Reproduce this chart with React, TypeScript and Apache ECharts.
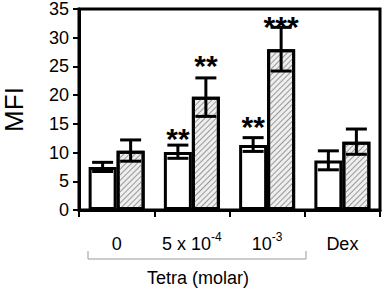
import React, { useEffect, useRef } from "react";
import * as echarts from "echarts";

const categories = ["0", "5 x 10-4", "10-3", "Dex"];
const controlMeans = [7.5, 10.1, 11.3, 8.6];
const controlLow = [6.7, 9.0, 10.2, 7.0];
const controlHigh = [8.3, 11.3, 12.6, 10.3];
const treatedMeans = [10.3, 19.7, 28.0, 11.9];
const treatedLow = [8.5, 16.3, 24.2, 9.7];
const treatedHigh = [12.2, 23.0, 31.8, 14.1];
// significance marks: [category index, side (-1 control, 1 treated), y value, text]
const starCats = [1, 1, 2, 2];
const starSides = [-1, 1, -1, 1];
const starValues = [12.9, 25.6, 15.1, 32.5];
const starTexts = ["**", "**", "**", "***"];
const yTicks = { min: 0, max: 35, interval: 5 };

const BAR_W = 28;
const FONT = "Liberation Sans, Arial, sans-serif";

export default function App() {
  const ref = useRef<HTMLDivElement>(null);
  useEffect(() => {
    document.body.style.margin = "0";
    const chart = echarts.init(ref.current!, null, { renderer: "svg" });
    const errData: any[] = [];
    categories.forEach((_, i) => {
      errData.push([i, controlLow[i], controlHigh[i], -1]);
      errData.push([i, treatedLow[i], treatedHigh[i], 1]);
    });
    const starData = starCats.map((c, i) => [c, starValues[i], starSides[i]]);
    chart.setOption({
      animation: false,
      textStyle: { fontFamily: FONT },
      grid: {
        left: 79,
        right: 3,
        top: 9,
        bottom: 79,
        show: true,
        borderColor: "#000",
        borderWidth: 3,
        outerBoundsMode: "none",
        containLabel: false,
      },
      xAxis: {
        type: "category",
        data: categories,
        axisLine: { lineStyle: { color: "#000", width: 3 } },
        axisTick: { show: true, length: 7, lineStyle: { color: "#000", width: 2 } },
        axisLabel: {
          interval: 0,
          hideOverlap: false,
          margin: 21,
          color: "#000",
          fontSize: 18,
          fontFamily: FONT,
          formatter: (v: string) => {
            const m = v.match(/^(.*10)(-\d)$/);
            return m ? `{n|${m[1]}}{s|${m[2]}}` : `{n|${v}}`;
          },
          rich: {
            n: { fontSize: 18, fontFamily: FONT, color: "#000", lineHeight: 22, verticalAlign: "bottom" },
            s: { fontSize: 12, fontFamily: FONT, color: "#000", lineHeight: 12, verticalAlign: "top" },
          },
        },
      },
      yAxis: {
        type: "value",
        min: yTicks.min,
        max: yTicks.max,
        interval: yTicks.interval,
        name: "MFI",
        nameLocation: "middle",
        nameRotate: 90,
        nameGap: 52,
        nameTextStyle: { fontSize: 26, color: "#000", fontFamily: FONT },
        axisLine: { show: true, lineStyle: { color: "#000", width: 3 } },
        axisTick: { show: true, length: 6, lineStyle: { color: "#000", width: 2 } },
        splitLine: { show: false },
        axisLabel: { color: "#000", fontSize: 18, fontFamily: FONT, margin: 10 },
      },
      series: [
        {
          type: "bar",
          data: controlMeans,
          barWidth: BAR_W,
          barGap: "0%",
          itemStyle: { color: "#fff", borderColor: "#000", borderWidth: 3 },
        },
        {
          type: "bar",
          data: treatedMeans,
          barWidth: BAR_W,
          itemStyle: {
            color: "#eeeeee",
            borderColor: "#000",
            borderWidth: 3,
            decal: {
              symbol: "rect",
              symbolSize: 1,
              dashArrayX: [[1, 0]],
              dashArrayY: [1, 3],
              rotation: -Math.PI / 4,
              color: "#999999",
            },
          },
        },
        {
          type: "custom",
          z: 5,
          data: errData,
          encode: { x: 0, y: [1, 2] },
          renderItem: (params: any, api: any) => {
            const cat = api.value(0);
            const side = api.value(3);
            const lo = api.coord([cat, api.value(1)]);
            const hi = api.coord([cat, api.value(2)]);
            const x = lo[0] + (side * BAR_W) / 2;
            const cap = 10.5;
            const st = { stroke: "#000", lineWidth: 3 };
            return {
              type: "group",
              children: [
                { type: "line", shape: { x1: x, y1: lo[1], x2: x, y2: hi[1] }, style: st },
                { type: "line", shape: { x1: x - cap, y1: lo[1], x2: x + cap, y2: lo[1] }, style: st },
                { type: "line", shape: { x1: x - cap, y1: hi[1], x2: x + cap, y2: hi[1] }, style: st },
              ],
            };
          },
        },
        {
          type: "custom",
          z: 6,
          data: starData,
          encode: { x: 0, y: 1 },
          renderItem: (params: any, api: any) => {
            const p = api.coord([api.value(0), api.value(1)]);
            const x = p[0] + (api.value(2) * BAR_W) / 2;
            return {
              type: "text",
              x,
              y: p[1] + 3,
              style: {
                text: starTexts[params.dataIndex],
                fontSize: 30,
                fontWeight: "bold",
                fontFamily: FONT,
                fill: "#000",
                align: "center",
                verticalAlign: "middle",
              },
            };
          },
        },
      ],
      graphic: [
        {
          type: "polyline",
          shape: { points: [[88, 251], [88, 259], [306, 259], [306, 251]] },
          style: { stroke: "#9a9a9a", lineWidth: 1, fill: "none" },
        },
        {
          type: "text",
          x: 198,
          y: 278,
          style: {
            text: "Tetra (molar)",
            fontSize: 18,
            fontFamily: FONT,
            fill: "#000",
            align: "center",
            verticalAlign: "middle",
          },
        },
      ],
    });
    return () => chart.dispose();
  }, []);
  return <div ref={ref} style={{ width: 383, height: 289 }} />;
}
